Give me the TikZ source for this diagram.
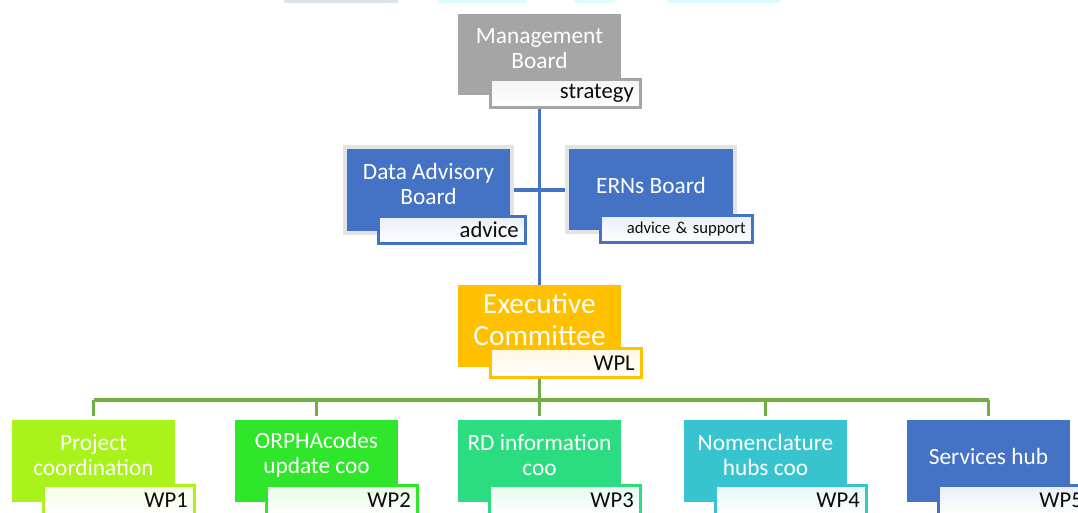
\documentclass[tikz,border=0pt]{standalone}
\usepackage{fontspec}
\setmainfont{Carlito}
\usetikzlibrary{calc}

\definecolor{mgmtgrey}{HTML}{A5A5A5}
\definecolor{boardblue}{HTML}{4472C4}
\definecolor{execgold}{HTML}{FFC000}
\definecolor{busgreen}{HTML}{70AD47}
\definecolor{wpone}{HTML}{A9F21A}
\definecolor{wptwo}{HTML}{30E62A}
\definecolor{wpthree}{HTML}{2BDC80}
\definecolor{wpfour}{HTML}{38C4CF}
\definecolor{wpfive}{HTML}{4472C4}
\definecolor{frame}{HTML}{E3E3E3}
\definecolor{stripgrey}{HTML}{DDE3EA}
\definecolor{stripcyan}{HTML}{DCFDFD}

\newcommand{\ttlfont}{\fontsize{17.5}{18.8}\selectfont}
\newcommand{\execfont}{\fontsize{22}{24}\selectfont}
\newcommand{\tagfont}{\fontsize{17}{18}\selectfont}
\newcommand{\smalltagfont}{\fontsize{12.5}{14}\selectfont}

\begin{document}
\begin{tikzpicture}[x=0.75pt,y=-0.75pt,
  box/.style n args={3}{rectangle, inner sep=0pt, fill=#1,
    minimum width=#2*0.75pt, minimum height=#3*0.75pt},
  framed/.style={draw=frame, line width=3pt},
  title/.style={align=center, text=white, font=\ttlfont, inner sep=0pt},
  tag/.style n args={3}{rectangle, draw=#1, line width=1.9pt,
    top color=#1!12, bottom color=white, text=black!95, font=\tagfont,
    inner sep=0pt, minimum width=#2*0.75pt, minimum height=#3*0.75pt,
    text width=(#2-14)*0.75pt, align=right},
  blueline/.style={draw=boardblue, line width=2.3pt},
  greenline/.style={draw=busgreen, line width=2.3pt}]

\useasboundingbox (0,0) rectangle (1078,512);
\clip (0,0) rectangle (1078,512);

% partly visible shapes along the top edge
\fill[stripgrey] (284,-2) rectangle (398,3);
\fill[stripcyan] (438,-2) rectangle (527,3);
\fill[stripcyan, rounded corners=4pt] (573,-10) rectangle (615,3);
\fill[stripcyan] (668,-2) rectangle (780,3);

% boxes
\node[box={mgmtgrey}{163}{81}] (mgmt) at (539.5,54.5) {};
\node[box={boardblue}{167}{86}, framed] (dab) at (428.5,190) {};
\node[box={boardblue}{168}{85}, framed] (erns) at (651,189.5) {};
\node[box={execgold}{163}{82}] (exec) at (539.5,326) {};
\node[box={wpone}{163}{82}] (wp1) at (93.5,461) {};
\node[box={wptwo}{163}{82}] (wp2) at (316.5,461) {};
\node[box={wpthree}{163}{82}] (wp3) at (539.5,461) {};
\node[box={wpfour}{163}{82}] (wp4) at (765.5,461) {};
\node[box={wpfive}{163}{82}] (wp5) at (988.5,461) {};

% connectors
\draw[blueline] (mgmt.south) -- (exec.north);
\draw[blueline] (dab.east) -- (dab.east -| erns.west);
\coordinate (bus) at (0,400);
\draw[greenline] (exec.south) -- (exec.south |- bus);
\draw[greenline] (wp1.north |- bus) -- (wp5.north |- bus);
\foreach \w in {wp1,wp2,wp3,wp4,wp5}
  \draw[greenline, shorten >=2.5pt] (\w.north |- bus) -- (\w.north);

% role tags
\node[tag={mgmtgrey}{150.5}{28.5}] (mgmtL) at (565.5,93.5) {strategy};
\node[tag={boardblue}{147.5}{27.5}] (dabL) at (452,230) {advice};
\node[tag={boardblue}{152.5}{27.5}, font=\smalltagfont] (ernsL) at (676.5,229) {advice \& support};
\node[tag={execgold}{151.5}{29.5}] (execL) at (566,363) {WPL};
\node[tag={wpone}{151.5}{29.5}] (wp1L) at (119,500) {WP1};
\node[tag={wptwo}{151.5}{29.5}] (wp2L) at (342,500) {WP2};
\node[tag={wpthree}{151.5}{29.5}] (wp3L) at (565,500) {WP3};
\node[tag={wpfour}{151.5}{29.5}] (wp4L) at (791,500) {WP4};
\node[tag={wpfive}{151.5}{29.5}] (wp5L) at (1014,500) {WP5};

% titles
\node[title] (mgmtT) at (539.5,49) {Management\\Board};
\node[title] (dabT) at (428.5,184) {Data Advisory\\Board};
\node[title] (ernsT) at (651,185) {ERNs Board};
\node[title, font=\execfont] (execT) at (539.5,319) {Executive\\Committee};
\node[title] (wp1T) at (93.5,455) {Project\\coordination};
\node[title] (wp2T) at (316.5,455) {ORPHAcodes\\update coo};
\node[title] (wp3T) at (539.5,455) {RD information\\coo};
\node[title] (wp4T) at (765.5,455) {Nomenclature\\hubs coo};
\node[title] (wp5T) at (988.5,456) {Services hub};
\end{tikzpicture}
\end{document}
